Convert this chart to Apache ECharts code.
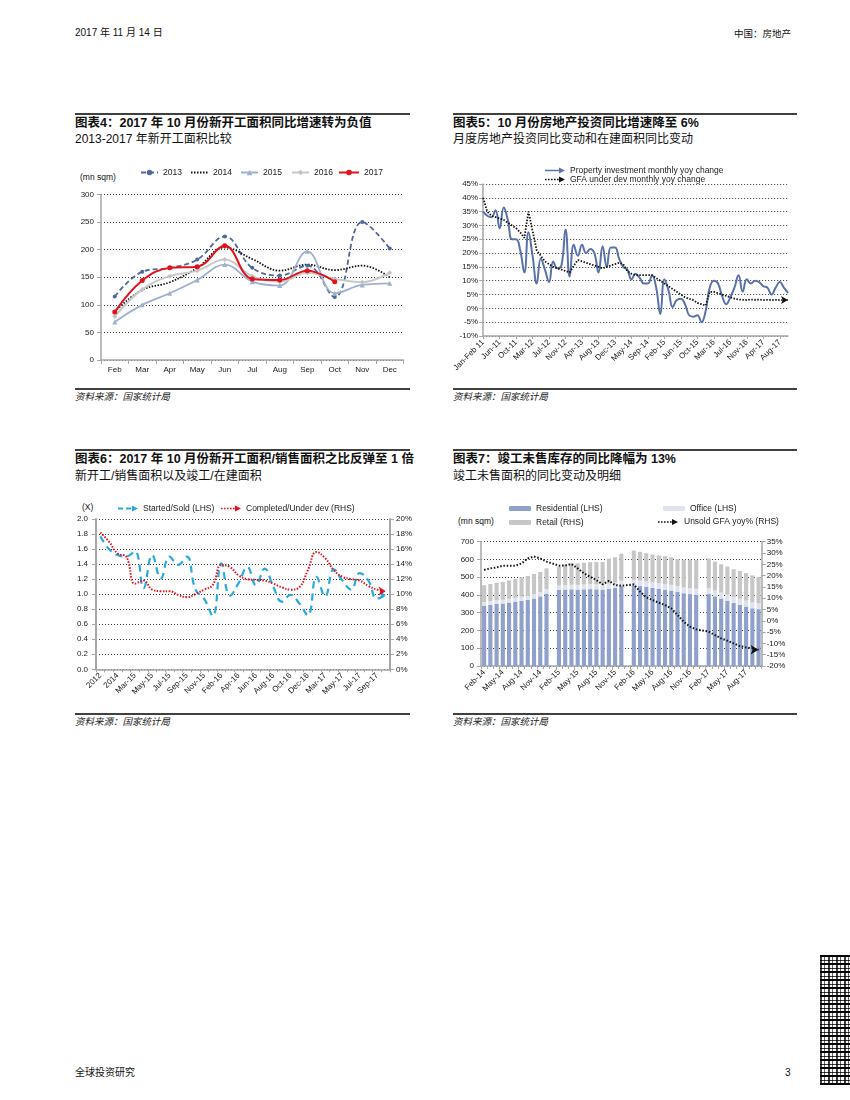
<!DOCTYPE html>
<html><head><meta charset="utf-8">
<script src="https://cdn.jsdelivr.net/npm/echarts@6/dist/echarts.min.js"></script>
<style>
html,body{margin:0;padding:0;background:#fff;}
body{width:850px;height:1100px;position:relative;overflow:hidden;font-family:"Liberation Sans","Noto Sans CJK SC",sans-serif;color:#111;}
.t{position:absolute;white-space:nowrap;line-height:1;}
.b{font-weight:bold;font-family:"Liberation Sans","Noto Sans CJK SC",sans-serif;}
.rule{position:absolute;background:#404040;}
.ch{position:absolute;}
.src{font-style:italic;font-size:9.5px;color:#222;}
.qr{position:absolute;left:820px;top:955px;width:30px;height:130px;
 background-image:repeating-linear-gradient(90deg,rgba(0,0,0,.75) 0 2px,rgba(255,255,255,0) 2px 4px,rgba(0,0,0,.6) 4px 5px,rgba(255,255,255,0) 5px 8px),
 repeating-linear-gradient(0deg,#000 0 2px,#fff 2px 4px,#333 4px 5px,#fff 5px 8px);}
</style></head><body>

<div class="t" style="left:75px;top:28px;font-size:10px;">2017 年 11 月 14 日</div>
<div class="t" style="right:59px;top:28.5px;font-size:9.5px;">中国：房地产</div>

<div class="rule" style="left:75px;top:113px;width:335px;height:1.5px;"></div>
<div class="t b" style="left:75px;top:116.5px;font-size:12.5px;">图表4：2017 年 10 月份新开工面积同比增速转为负值</div>
<div class="t" style="left:75px;top:133px;font-size:12px;">2013-2017 年新开工面积比较</div>
<div class="t" style="left:80px;top:172.5px;font-size:8.5px;">(mn sqm)</div>
<div class="rule" style="left:75px;top:388px;width:335px;height:1.5px;"></div>
<div class="t src" style="left:75px;top:391.5px;">资料来源：国家统计局</div>

<div class="rule" style="left:453px;top:113px;width:344px;height:1.5px;"></div>
<div class="t b" style="left:453px;top:116.5px;font-size:12.5px;">图表5：10 月份房地产投资同比增速降至 6%</div>
<div class="t" style="left:453px;top:133px;font-size:12px;">月度房地产投资同比变动和在建面积同比变动</div>
<div class="rule" style="left:453px;top:388px;width:344px;height:1.5px;"></div>
<div class="t src" style="left:453px;top:391.5px;">资料来源：国家统计局</div>

<div class="rule" style="left:75px;top:449px;width:335px;height:1.5px;"></div>
<div class="t b" style="left:75px;top:453px;font-size:12.5px;">图表6：2017 年 10 月份新开工面积/销售面积之比反弹至 1 倍</div>
<div class="t" style="left:75px;top:470px;font-size:12px;">新开工/销售面积以及竣工/在建面积</div>
<div class="t" style="left:82px;top:502.5px;font-size:8.5px;">(X)</div>
<div class="rule" style="left:75px;top:713px;width:335px;height:1.5px;"></div>
<div class="t src" style="left:75px;top:717px;">资料来源：国家统计局</div>

<div class="rule" style="left:453px;top:449px;width:344px;height:1.5px;"></div>
<div class="t b" style="left:453px;top:453px;font-size:12.5px;">图表7：竣工未售库存的同比降幅为 13%</div>
<div class="t" style="left:453px;top:470px;font-size:12px;">竣工未售面积的同比变动及明细</div>
<div class="t" style="left:458px;top:516.5px;font-size:8.5px;">(mn sqm)</div>
<div class="rule" style="left:453px;top:713px;width:344px;height:1.5px;"></div>
<div class="t src" style="left:453px;top:717px;">资料来源：国家统计局</div>

<div class="t" style="left:75px;top:1068px;font-size:10px;">全球投资研究</div>
<div class="t" style="left:785px;top:1068px;font-size:10px;">3</div>
<div class="qr"></div>

<div id="c4" class="ch" style="left:70px;top:160px;width:345px;height:225px;"></div>
<div id="c5" class="ch" style="left:450px;top:160px;width:350px;height:225px;"></div>
<div id="c6" class="ch" style="left:70px;top:495px;width:345px;height:215px;"></div>
<div id="c7" class="ch" style="left:450px;top:495px;width:350px;height:215px;"></div>

<script>
// ---------- Chart 4 data ----------
const months4 = ['Feb','Mar','Apr','May','Jun','Jul','Aug','Sep','Oct','Nov','Dec'];
const s2013 = [115,160,167,182,224,167,153,171,114,250,202];
const s2014 = [88,127,141,167,204,183,162,173,163,171,150];
const s2015 = [69,100,121,145,173,142,135,197,121,136,139];
const s2016 = [79,128,152,162,182,152,142,158,147,141,158];
const s2017 = [87,144,167,169,207,147,145,162,142];

// ---------- Chart 5 data ----------
const cats5 = ['Jan-Feb 11','Mar-11','Apr-11','May-11','Jun-11','Jul-11','Aug-11','Sep-11','Oct-11','Nov-11','Dec-11',
 'Feb-12','Mar-12','Apr-12','May-12','Jun-12','Jul-12','Aug-12','Sep-12','Oct-12','Nov-12','Dec-12',
 'Feb-13','Mar-13','Apr-13','May-13','Jun-13','Jul-13','Aug-13','Sep-13','Oct-13','Nov-13','Dec-13',
 'Feb-14','Mar-14','Apr-14','May-14','Jun-14','Jul-14','Aug-14','Sep-14','Oct-14','Nov-14','Dec-14',
 'Feb-15','Mar-15','Apr-15','May-15','Jun-15','Jul-15','Aug-15','Sep-15','Oct-15','Nov-15','Dec-15',
 'Feb-16','Mar-16','Apr-16','May-16','Jun-16','Jul-16','Aug-16','Sep-16','Oct-16','Nov-16','Dec-16',
 'Feb-17','Mar-17','Apr-17','May-17','Jun-17','Jul-17','Aug-17','Sep-17','Oct-17'];
const invest5 = [35,33.5,33,35.5,29,36.5,32,25,25,21,13,27.5,19,9,18,14,9.5,17,14.5,15.5,
 28.5,11.5,23,19,23,20,21.5,20,13,22.5,15,22,22,18,15,14,10.5,12.5,11,9,
 9,12,7.5,-2,10.5,6.5,0.5,3,3.5,1.5,-2.5,-3,-2.5,-5,-1,7.5,10,9,4.5,1.5,
 4,7.5,12,6,10.5,9,10,9.5,8,7.5,5,7.5,9.5,7.5,5.6];
const gfa5 = [40,35,33.5,33,32.5,32,31,30,29,27.5,25.5,35,28,21,19,17,16,15,14.5,14,
 13.5,13,15.5,17.5,17,16.5,16,15.5,15,14.5,15,15.5,16,16.5,16,13.5,12.5,12,12,12,
 12,12,11,10,9,8,7,6,5,4,3.5,3,2,1.5,1,6,6,5.5,5,4.5,
 4,3.5,3.2,3.1,3,3.2,3.1,3.2,3,3.1,3,3.1,3,3,3];

// ---------- Chart 6 data ----------
const cats6 = ['2012','2013','2014','Feb-15','Mar-15','Apr-15','May-15','Jun-15','Jul-15','Aug-15','Sep-15','Oct-15','Nov-15','Dec-15',
 'Feb-16','Mar-16','Apr-16','May-16','Jun-16','Jul-16','Aug-16','Sep-16','Oct-16','Nov-16','Dec-16',
 'Feb-17','Mar-17','Apr-17','May-17','Jun-17','Jul-17','Aug-17','Sep-17','Oct-17'];
const startedSold6 = [1.77,1.60,1.52,1.50,1.57,1.08,1.52,1.21,1.50,1.39,1.50,1.06,0.94,0.71,1.41,0.98,1.15,1.36,1.12,1.34,
 1.10,0.90,0.99,0.88,0.72,1.23,0.97,1.33,1.18,1.06,1.28,1.18,0.94,0.99];
const completedDev6 = [18.2,17.0,15.4,15.0,11.4,11.8,10.6,10.4,10.4,9.9,9.6,10.0,10.6,11.2,13.9,13.6,12.5,12.0,11.9,11.8,
 11.4,10.9,10.6,10.9,13.2,15.6,14.8,13.2,12.3,12.0,11.8,11.1,10.6,10.4];

// ---------- Chart 7 data ----------
const cats7 = ['Feb-14','Mar-14','Apr-14','May-14','Jun-14','Jul-14','Aug-14','Sep-14','Oct-14','Nov-14','Dec-14',
 'Jan-15','Feb-15','Mar-15','Apr-15','May-15','Jun-15','Jul-15','Aug-15','Sep-15','Oct-15','Nov-15','Dec-15',
 'Jan-16','Feb-16','Mar-16','Apr-16','May-16','Jun-16','Jul-16','Aug-16','Sep-16','Oct-16','Nov-16','Dec-16',
 'Jan-17','Feb-17','Mar-17','Apr-17','May-17','Jun-17','Jul-17','Aug-17','Sep-17','Oct-17'];
const residential7 = [340,345,350,352,357,362,367,372,380,392,408,null,428,430,432,430,432,433,432,430,435,440,450,null,
 455,450,445,440,435,430,425,418,410,405,402,null,405,392,380,368,355,345,335,325,320];
const office7 = [20,20,21,21,22,22,23,23,24,24,25,null,25,26,26,27,27,28,28,29,29,30,30,null,
 30,31,31,31,32,32,32,32,32,33,33,null,33,33,33,33,33,33,33,33,33];
const retail7 = [95,97,97,101,103,107,110,112,114,114,117,null,107,114,122,121,123,124,125,126,141,142,152,null,
 165,162,159,157,155,156,155,152,156,159,162,null,167,163,160,159,157,157,155,152,149];
const unsold7 = [22.5,23.2,23.6,24.4,24.4,24.4,25.4,27.6,28.4,27.6,26.2,null,24.4,24.5,25.1,23.2,21.0,19.5,18.0,16.1,17.7,15.8,15.5,null,
 16.1,12.9,10.4,9.2,8.0,7.0,5.5,2.6,-0.4,-2.6,-3.8,null,-4.8,-6.3,-7.8,-8.8,-10.0,-11.2,-11.8,-12.2,-12.8];

// ---------- styling helpers ----------
const FONT = '"Liberation Sans", Arial, sans-serif';
const TXT = '#1a1a1a';
const AX = '#a6a6a6';
// legend icon shapes (line style + arrow head), drawn in a 20x6 box
const ARR = 'M14,0L20,3L14,6Z';
const ICON_SOLID = 'path://M0,2.2L14,2.2L14,3.8L0,3.8Z' + ARR;
const ICON_DOT = 'path://M0,2.2h1.6v1.6h-1.6Z M3,2.2h1.6v1.6h-1.6Z M6,2.2h1.6v1.6h-1.6Z M9,2.2h1.6v1.6h-1.6Z M12,2.2h1.6v1.6h-1.6Z' + ARR;
const ICON_DASH = 'path://M0,2.1h5v1.8h-5Z M8,2.1h5v1.8h-5Z' + ARR;
const dotGrid = {show:true, lineStyle:{type:[1,2], color:'#3a3a3a', width:1}};
function arrowEnd(arr, color, size){
  return arr.map((v,i)=> i===arr.length-1 ? {value:v, symbol:'arrow', symbolSize:size||[6,7], symbolRotate:-90, itemStyle:{color:color}} : v);
}
function leg(item, left, top, opt){
  return Object.assign({data:[item], left:left, top:top, padding:0, itemGap:0, itemWidth:17, itemHeight:7,
    textStyle:{fontSize:8.5, color:TXT, fontFamily:FONT}, selectedMode:false}, opt||{});
}
function catAxis(data, extra){
  return Object.assign({type:'category', data:data,
    axisLine:{show:true, onZero:false, lineStyle:{color:AX, width:1.5}},
    axisTick:{show:true, length:4, lineStyle:{color:AX}},
    axisLabel:{fontSize:8, color:TXT, fontFamily:FONT}}, extra||{});
}
function valAxis(extra){
  return Object.assign({type:'value',
    axisLine:{show:true, lineStyle:{color:AX, width:1.5}},
    axisTick:{show:true, length:4, lineStyle:{color:AX}},
    axisLabel:{fontSize:8, color:TXT, fontFamily:FONT},
    splitLine:dotGrid}, extra||{});
}
const arrowLeg = {itemWidth:20, itemHeight:6};

// ---------- Chart 4 ----------
const c4 = echarts.init(document.getElementById('c4'), null, {renderer:'canvas'});
c4.setOption({
  animation:false,
  textStyle:{fontFamily:FONT},
  grid:{left:31, top:34.5, width:302.5, height:165.5},
  legend:[leg('2013',70,8), leg({name:'2014',itemStyle:{opacity:0}},120,8), leg('2015',170,8), leg('2016',221,8), leg('2017',268,8,{itemWidth:20})],
  xAxis:catAxis(months4,{boundaryGap:true, axisLabel:{fontSize:8,color:TXT,fontFamily:FONT,margin:6}}),
  yAxis:valAxis({min:0,max:300,interval:50, axisLabel:{fontSize:8,color:TXT,fontFamily:FONT,margin:7}}),
  series:[
    {name:'2013', type:'line', data:s2013, smooth:0.4, symbol:'circle', symbolSize:4,
      lineStyle:{color:'#4f6a9a', width:1.8, type:[5,3]}, itemStyle:{color:'#4f6a9a'}},
    {name:'2014', type:'line', data:s2014, smooth:0.4, symbol:'none',
      lineStyle:{color:'#111', width:1.8, type:[1.5,1.5]}, itemStyle:{color:'#111'}},
    {name:'2015', type:'line', data:s2015, smooth:0.4, symbol:'triangle', symbolSize:5,
      lineStyle:{color:'#9eb0cf', width:1.8}, itemStyle:{color:'#9eb0cf'}},
    {name:'2016', type:'line', data:s2016, smooth:0.4, symbol:'diamond', symbolSize:5,
      lineStyle:{color:'#c9c9c9', width:2}, itemStyle:{color:'#c4c4c4'}},
    {name:'2017', type:'line', data:s2017, smooth:0.4, symbol:'circle', symbolSize:5,
      lineStyle:{color:'#e3111b', width:2}, itemStyle:{color:'#e3111b'}}
  ]
});

// ---------- Chart 5 ----------
const c5 = echarts.init(document.getElementById('c5'));
c5.setOption({
  animation:false,
  textStyle:{fontFamily:FONT},
  grid:{left:33, top:24, width:305, height:152},
  legend:[leg({name:'Property investment monthly yoy change',icon:ICON_SOLID},95,6,arrowLeg),
          leg({name:'GFA under dev monthly yoy change',icon:ICON_DOT},95,15,arrowLeg)],
  xAxis:catAxis(cats5,{boundaryGap:false,
    axisTick:{show:true,length:3,interval:3,lineStyle:{color:AX}},
    axisLabel:{fontSize:8,color:TXT,fontFamily:FONT,rotate:45,interval:3,margin:5}}),
  yAxis:valAxis({min:-10,max:45,interval:5,
    axisLabel:{fontSize:8,color:TXT,fontFamily:FONT,margin:5,formatter:'{value}%'}}),
  series:[
    {name:'Property investment monthly yoy change', type:'line', data:invest5, smooth:0.45, symbol:'none',
      lineStyle:{color:'#5a72a8', width:2}, itemStyle:{color:'#5a72a8'}},
    {name:'GFA under dev monthly yoy change', type:'line', data:arrowEnd(gfa5,'#111'), smooth:false,
      symbol:'none', showSymbol:true, showAllSymbol:true,
      lineStyle:{color:'#111', width:1.8, type:[1.5,1.5]}, itemStyle:{color:'#111'}}
  ]
});

// ---------- Chart 6 ----------
const c6 = echarts.init(document.getElementById('c6'));
c6.setOption({
  animation:false,
  textStyle:{fontFamily:FONT},
  grid:{left:26, top:24, width:296, height:150.3},
  legend:[leg({name:'Started/Sold (LHS)',icon:ICON_DASH},48,9,arrowLeg),
          leg({name:'Completed/Under dev (RHS)',icon:ICON_DOT},151,9,arrowLeg)],
  xAxis:catAxis(cats6,{boundaryGap:true,
    axisTick:{show:true,length:3,interval:0,lineStyle:{color:AX}},
    axisLabel:{fontSize:8,color:TXT,fontFamily:FONT,rotate:45,interval:1,margin:5}}),
  yAxis:[
    valAxis({min:0,max:2,interval:0.2, axisLine:{show:true,lineStyle:{color:AX,width:2}},
      axisLabel:{fontSize:8,color:TXT,fontFamily:FONT,margin:8,formatter:v=>v.toFixed(1)}}),
    valAxis({min:0,max:20,interval:2, position:'right', splitLine:{show:false},
      axisLine:{show:true,lineStyle:{color:AX,width:2}},
      axisLabel:{fontSize:8,color:TXT,fontFamily:FONT,margin:6,formatter:'{value}%'}})
  ],
  series:[
    {name:'Started/Sold (LHS)', type:'line', yAxisIndex:0, data:arrowEnd(startedSold6,'#29a9e1',[6,6]), smooth:0.45,
      symbol:'none', showSymbol:true, showAllSymbol:true,
      lineStyle:{color:'#29a9e1', width:2.2, type:[7,5]}, itemStyle:{color:'#29a9e1'}},
    {name:'Completed/Under dev (RHS)', type:'line', yAxisIndex:1, data:arrowEnd(completedDev6,'#e3111b',[7,7]), smooth:0.45,
      symbol:'none', showSymbol:true, showAllSymbol:true,
      lineStyle:{color:'#e3111b', width:2, type:[1.5,1.5]}, itemStyle:{color:'#e3111b'}}
  ]
});

// ---------- Chart 7 ----------
const c7 = echarts.init(document.getElementById('c7'));
const bLeg = {itemWidth:22,itemHeight:5};
c7.setOption({
  animation:false,
  textStyle:{fontFamily:FONT},
  grid:{left:31, top:46.7, width:280.7, height:124.3},
  legend:[leg('Residential (LHS)',59,9,bLeg), leg('Office (LHS)',213,9,bLeg),
          leg('Retail (RHS)',59,23,bLeg), leg({name:'Unsold GFA yoy% (RHS)',icon:ICON_DOT},208,22.5,{itemWidth:22,itemHeight:6})],
  xAxis:catAxis(cats7,{boundaryGap:true,
    axisTick:{show:true,length:3,interval:0,lineStyle:{color:AX}},
    axisLabel:{fontSize:8,color:TXT,fontFamily:FONT,rotate:45,interval:2,margin:5}}),
  yAxis:[
    valAxis({min:0,max:700,interval:100, axisLabel:{fontSize:8,color:TXT,fontFamily:FONT,margin:7}}),
    valAxis({min:-20,max:35,interval:5, position:'right', splitLine:{show:false},
      axisLabel:{fontSize:8,color:TXT,fontFamily:FONT,margin:5,formatter:'{value}%'}})
  ],
  series:[
    {name:'Residential (LHS)', type:'bar', stack:'inv', data:residential7, barWidth:'66%', itemStyle:{color:'#8fa1cb'}},
    {name:'Office (LHS)', type:'bar', stack:'inv', data:office7, barWidth:'66%', itemStyle:{color:'#dfe3ee'}},
    {name:'Retail (RHS)', type:'bar', stack:'inv', data:retail7, barWidth:'66%', itemStyle:{color:'#c6c6c6'}},
    {name:'Unsold GFA yoy% (RHS)', type:'line', yAxisIndex:1, data:arrowEnd(unsold7,'#111',[7,8]), connectNulls:true,
      symbol:'none', showSymbol:true, showAllSymbol:true, z:5,
      lineStyle:{color:'#111', width:2, type:[1.5,1.8]}, itemStyle:{color:'#111'}}
  ]
});
</script>
</body></html>
